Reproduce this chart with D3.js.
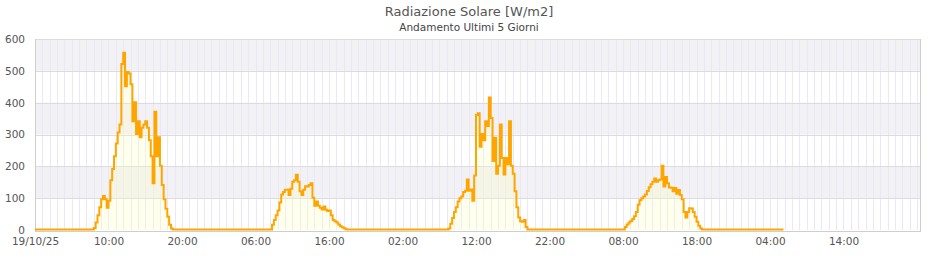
<!DOCTYPE html>
<html>
<head>
<meta charset="utf-8">
<script src="https://cdn.jsdelivr.net/npm/d3@7"></script>
<style>
  html, body { margin: 0; padding: 0; background: #fff; }
  svg { display: block; font-family: "DejaVu Sans", sans-serif; }
</style>
</head>
<body>
<div id="chart"></div>
<script>
// dati (W/m2, un valore ogni 15 minuti)
const startDate = "2025-10-19T00:00";
const endDate = "2025-10-24T00:00";
const dataEnd = "2025-10-23T05:50";

const day1Start = "2025-10-19T07:45";
const day1Values = [0, 5, 22, 45, 70, 95, 105, 95, 68, 90, 155, 190, 230, 270, 305, 330, 520, 555, 450, 495,
  490, 456, 340, 400, 300, 340, 290, 320, 330, 340, 320, 280, 230, 145, 370, 230, 290, 200, 140, 95,
  65, 40, 15, 3, 0];
const day2Start = "2025-10-20T08:00";
const day2Values = [0, 15, 30, 45, 60, 85, 110, 118, 125, 125, 108, 128, 150, 155, 172, 150, 120, 108, 125, 136,
  135, 140, 145, 100, 75, 88, 75, 68, 63, 72, 62, 58, 60, 45, 30, 26, 22, 16, 10, 7,
  4, 1, 0];
const day3Start = "2025-10-21T08:00";
const day3Values = [0, 3, 18, 36, 55, 70, 88, 98, 104, 118, 122, 157, 122, 126, 90, 170, 360, 365, 260, 300,
  280, 340, 325, 415, 350, 215, 288, 175, 200, 330, 225, 173, 225, 205, 340, 200, 175, 120, 70, 38,
  26, 24, 30, 8, 0];
const day4Start = "2025-10-22T08:00";
const day4Values = [0, 8, 16, 22, 27, 33, 42, 55, 78, 92, 98, 104, 110, 121, 133, 142, 150, 160, 150, 155,
  157, 200, 135, 165, 145, 132, 131, 120, 130, 112, 124, 108, 95, 55, 38, 55, 67, 66, 55, 40,
  24, 12, 3, 0];

const yTicks = [0, 100, 200, 300, 400, 500, 600];
const xTickLabels = ["19/10/25", "10:00", "20:00", "06:00", "16:00", "02:00",
  "12:00", "22:00", "08:00", "18:00", "04:00", "14:00"];

const titleText = "Radiazione Solare [W/m2]";
const subtitleText = "Andamento Ultimi 5 Giorni";

// costruzione serie
const parse = d3.timeParse("%Y-%m-%dT%H:%M");
const series = [{t: parse(startDate), v: 0}];
[[day1Start, day1Values], [day2Start, day2Values], [day3Start, day3Values], [day4Start, day4Values]]
  .forEach(function (day) {
    const s = parse(day[0]);
    day[1].forEach(function (v, i) {
      series.push({t: d3.timeMinute.offset(s, i * 15), v: v});
    });
  });
series.push({t: parse(dataEnd), v: 0});

// svg
const width = 940, height = 260;
const mLeft = 35, mRight = 921, plotRight = 917, mTop = 39, mBottom = 230;

const svg = d3.select("#chart").append("svg")
  .attr("width", width)
  .attr("height", height)
  .attr("viewBox", [0, 0, width, height]);

const x = d3.scaleTime()
  .domain([parse(startDate), parse(endDate)])
  .range([mLeft, plotRight]);
const y = d3.scaleLinear()
  .domain([0, 600])
  .range([mBottom, mTop]);

// bande orizzontali
svg.append("g").selectAll("rect")
  .data(yTicks.slice(0, -1).filter((d, i) => i % 2 === 1))
  .join("rect")
  .attr("x", mLeft)
  .attr("width", mRight - mLeft)
  .attr("y", d => y(d + 100))
  .attr("height", d => y(d) - y(d + 100))
  .attr("fill", "#f2f2f4");

// griglia verticale (ogni ora)
const hours = d3.range(1, 121).map(h => d3.timeHour.offset(parse(startDate), h));
svg.append("g").selectAll("line")
  .data(hours)
  .join("line")
  .attr("x1", d => Math.round(x(d)) + 0.5)
  .attr("x2", d => Math.round(x(d)) + 0.5)
  .attr("y1", mTop)
  .attr("y2", mBottom)
  .attr("stroke", "#eae8f8")
  .attr("stroke-width", 1);

// griglia orizzontale
svg.append("g").selectAll("line")
  .data(yTicks.slice(1))
  .join("line")
  .attr("x1", mLeft)
  .attr("x2", mRight)
  .attr("y1", d => Math.round(y(d)) + 0.5)
  .attr("y2", d => Math.round(y(d)) + 0.5)
  .attr("stroke", "#dcdcdc");

// bordi
svg.append("line")
  .attr("x1", mLeft + 0.5).attr("x2", mLeft + 0.5)
  .attr("y1", mTop).attr("y2", mBottom + 1)
  .attr("stroke", "#cfcfcf");
svg.append("line")
  .attr("x1", mRight - 0.5).attr("x2", mRight - 0.5)
  .attr("y1", mTop).attr("y2", mBottom + 1)
  .attr("stroke", "#cfcfcf");
svg.append("line")
  .attr("x1", mLeft).attr("x2", mRight)
  .attr("y1", mBottom + 1.5).attr("y2", mBottom + 1.5)
  .attr("stroke", "#cfcfcf");

// area + linea
const area = d3.area()
  .curve(d3.curveStepAfter)
  .x(d => x(d.t))
  .y0(y(0))
  .y1(d => y(d.v));
const line = d3.line()
  .curve(d3.curveStepAfter)
  .x(d => x(d.t))
  .y(d => y(d.v) - 0.5);

svg.append("path")
  .datum(series)
  .attr("d", area)
  .attr("fill", "#ffffc0")
  .attr("fill-opacity", 0.28);
svg.append("path")
  .datum(series)
  .attr("d", line)
  .attr("fill", "none")
  .attr("stroke", "#ffa500")
  .attr("stroke-width", 2);

// assi (solo etichette)
const xTickValues = d3.range(0, 120, 10).map(h => d3.timeHour.offset(parse(startDate), h));
const xAxis = d3.axisBottom(x)
  .tickValues(xTickValues)
  .tickSize(0)
  .tickPadding(8)
  .tickFormat((d, i) => xTickLabels[i]);
svg.append("g")
  .attr("transform", `translate(0,${mBottom})`)
  .call(xAxis)
  .call(g => g.select(".domain").remove())
  .selectAll("text")
  .attr("font-size", 10.5)
  .attr("font-family", "DejaVu Sans, sans-serif")
  .attr("fill", "#555");

const yAxis = d3.axisLeft(y)
  .tickValues(yTicks)
  .tickSize(0)
  .tickPadding(10);
svg.append("g")
  .attr("transform", `translate(${mLeft},0)`)
  .call(yAxis)
  .call(g => g.select(".domain").remove())
  .selectAll("text")
  .attr("font-size", 10.5)
  .attr("font-family", "DejaVu Sans, sans-serif")
  .attr("fill", "#555");

// titoli
svg.append("text")
  .attr("x", 469).attr("y", 16)
  .attr("text-anchor", "middle")
  .attr("font-size", 13)
  .attr("fill", "#555")
  .text(titleText);
svg.append("text")
  .attr("x", 469).attr("y", 31)
  .attr("text-anchor", "middle")
  .attr("font-size", 10.5)
  .attr("fill", "#444")
  .text(subtitleText);
</script>
</body>
</html>
